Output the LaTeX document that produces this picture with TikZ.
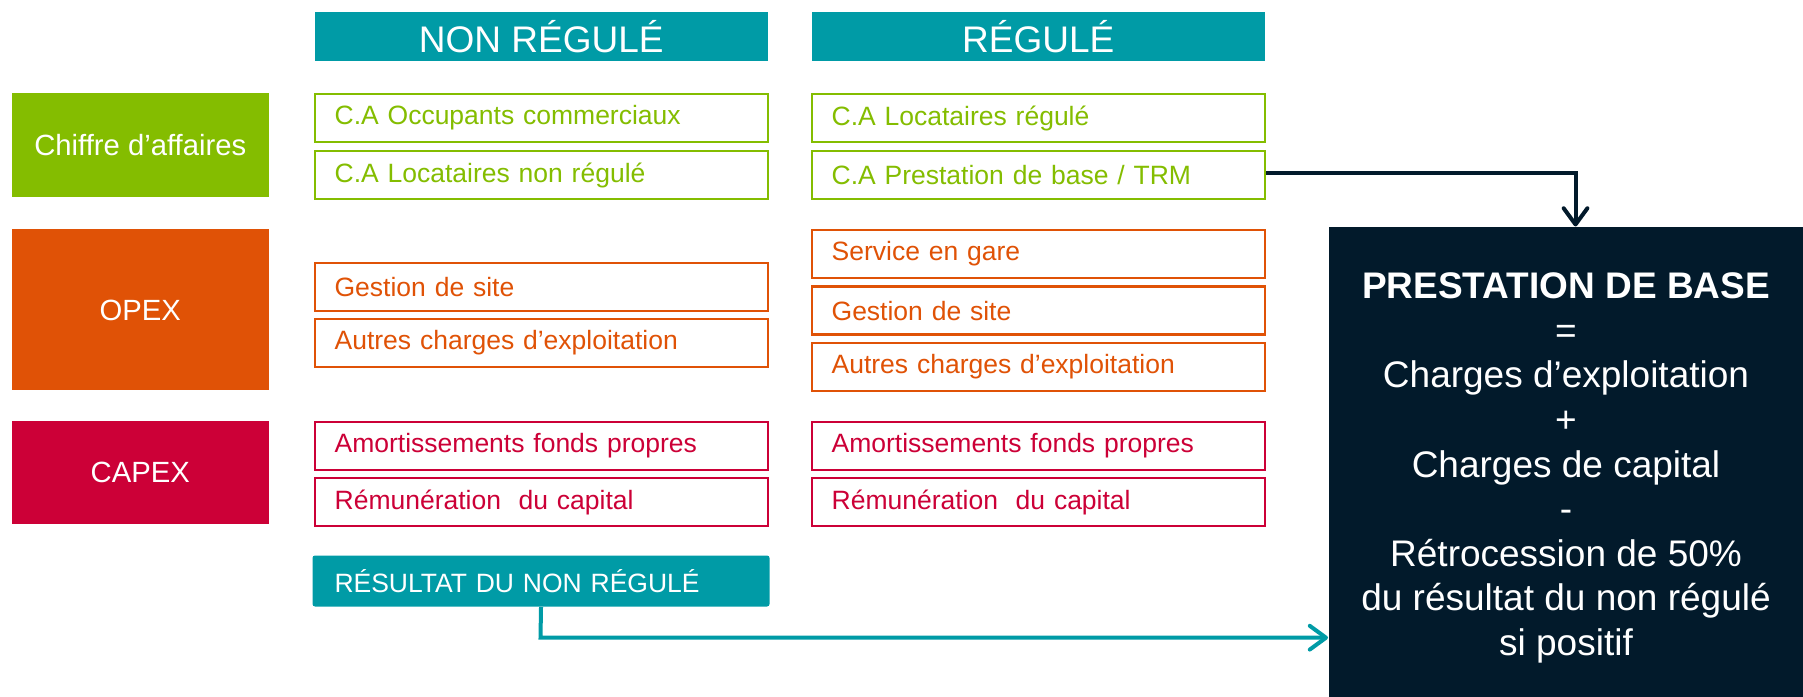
\documentclass[tikz,border=0pt]{standalone}
\usepackage{fontspec}
\setmainfont{Liberation Sans}
\usetikzlibrary{arrows.meta}
\definecolor{tealc}{RGB}{0,155,166}
\definecolor{greenc}{RGB}{132,189,0}
\definecolor{orangec}{RGB}{224,82,6}
\definecolor{crimc}{RGB}{204,0,55}
\definecolor{navyc}{RGB}{2,26,43}
\newcommand\myboxfont{\fontsize{10.6pt}{12.7pt}\selectfont}
\newcommand\mycatfont{\fontsize{11.7pt}{14pt}\selectfont}
\newcommand\myhdfont{\fontsize{14.8pt}{17pt}\selectfont}
\newcommand\mypbfont{\fontsize{14.8pt}{17.85pt}\selectfont}
\tikzset{
  cbox/.style={draw, line width=0.9pt, fill=white, minimum height=19.2pt, text width=165.6pt,
    inner xsep=7.8pt, inner ysep=0pt, align=left, anchor=north west, font=\myboxfont},
  catbox/.style={fill=#1, text=white, minimum width=102.6pt, inner sep=0pt, anchor=north west, font=\mycatfont},
  hdbox/.style={fill=tealc, text=white, minimum width=181.4pt, minimum height=19.8pt, inner sep=0pt, anchor=north west, font=\myhdfont},
  arr/.style={line width=1.6pt, -{Straight Barb[length=6.5pt,width=9.5pt,line width=1.6pt,round]}}
}
\begin{document}
\begin{tikzpicture}[x=0.4pt,y=-0.4pt]
\useasboundingbox (0,0) rectangle (1803,697);
% headers
\node[hdbox] (hnr) at (314,11.5) {NON RÉGULÉ};
\node[hdbox] (hr) at (811,11.5) {RÉGULÉ};
% categories
\node[catbox=greenc, minimum height=41.6pt] (ca) at (11.5,93) {Chiffre d’affaires};
\node[catbox=orangec, minimum height=64.4pt] (opex) at (11.5,229) {OPEX};
\node[catbox=crimc, minimum height=40.8pt] (capex) at (11.5,421) {CAPEX};
% non regule column
\node[cbox, draw=greenc, text=greenc] (nr1) at (314,93) {C.A Occupants commerciaux};
\node[cbox, draw=greenc, text=greenc] (nr2) at (314,150) {C.A Locataires non régulé};
\node[cbox, draw=orangec, text=orangec] (nr3) at (314,262) {Gestion de site};
\node[cbox, draw=orangec, text=orangec] (nr4) at (314,318) {Autres charges d’exploitation};
\node[cbox, draw=crimc, text=crimc] (nr5) at (314,421) {Amortissements fonds propres};
\node[cbox, draw=crimc, text=crimc] (nr6) at (314,477) {Rémunération\ \ du capital};
% regule column
\node[cbox, draw=greenc, text=greenc] (r1) at (811,93) {C.A Locataires régulé};
\node[cbox, draw=greenc, text=greenc] (r2) at (811,150) {C.A Prestation de base / TRM};
\node[cbox, draw=orangec, text=orangec] (r3) at (811,229) {Service en gare};
\node[cbox, draw=orangec, text=orangec] (r4) at (811,285.5) {Gestion de site};
\node[cbox, draw=orangec, text=orangec] (r5) at (811,342) {Autres charges d’exploitation};
\node[cbox, draw=crimc, text=crimc] (r6) at (811,421) {Amortissements fonds propres};
\node[cbox, draw=crimc, text=crimc] (r7) at (811,477) {Rémunération\ \ du capital};
% resultat
\node[fill=tealc, text=white, rounded corners=1pt, minimum width=182.8pt, minimum height=20.4pt,
  text width=165.2pt, inner xsep=8.8pt, inner ysep=0pt, align=left, anchor=north west, font=\myboxfont]
  (res) at (312,555) {RÉSULTAT DU NON RÉGULÉ};
% prestation de base
\node[fill=navyc, minimum width=190pt, minimum height=188.2pt, inner sep=0pt, anchor=north west]
  (pb) at (1328,226.5) {};
\node[text=white, align=center, font=\mypbfont, inner sep=0pt] (pbtext) at ([yshift=-2.3pt]pb.center)
  {\textbf{PRESTATION DE BASE}\\=\\Charges d’exploitation\\+\\Charges de capital\\-\\Rétrocession de 50\%\\du résultat du non régulé\\si positif};
% arrows
\coordinate (a1) at (1575.5,173.4);
\draw[arr, draw=navyc] (r2.east |- a1) -- (a1) -- (a1 |- pb.north);
\coordinate (a2) at (540.5,637.7);
\draw[arr, draw=tealc] (res.south) -- (a2) -- (a2 -| pb.west);
\end{tikzpicture}
\end{document}
